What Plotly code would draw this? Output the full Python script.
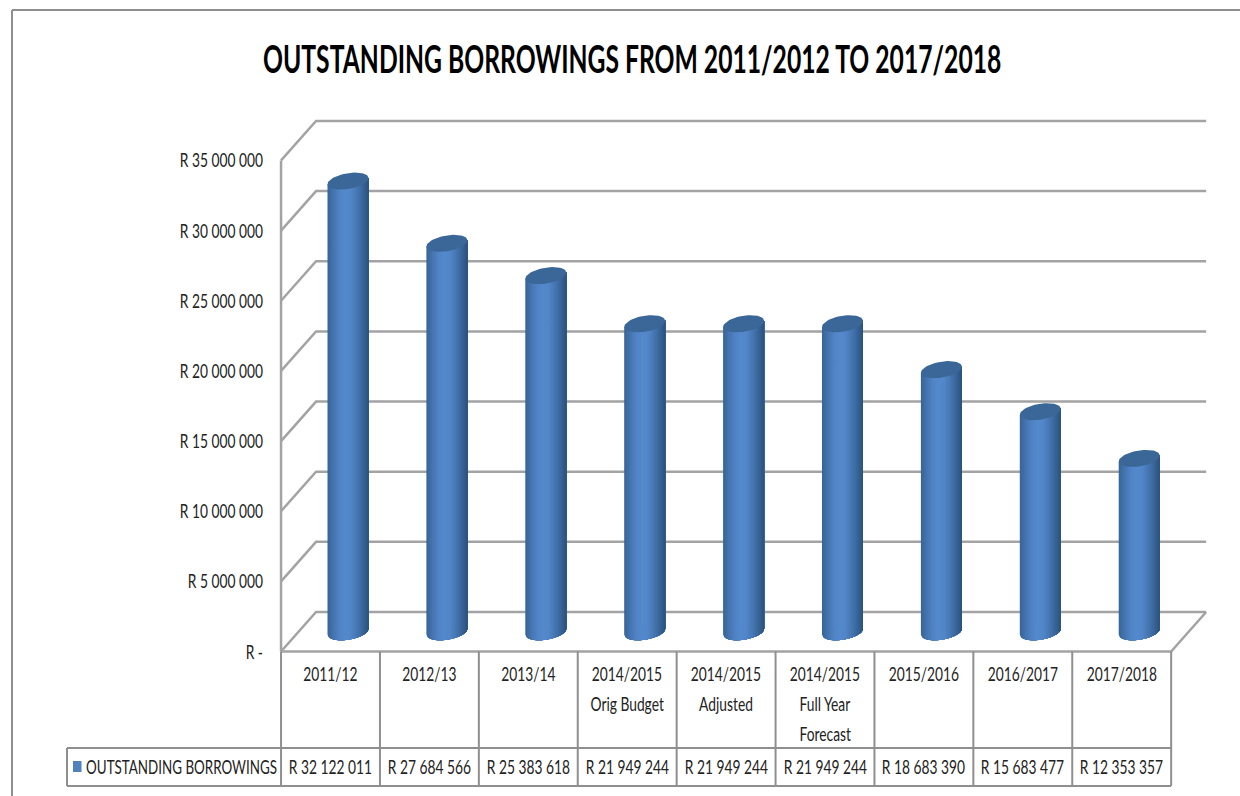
import math
import plotly.graph_objects as go

# Chart data
categories = [
    ["2011/12"], ["2012/13"], ["2013/14"],
    ["2014/2015", "Orig Budget"], ["2014/2015", "Adjusted"],
    ["2014/2015", "Full Year", "Forecast"],
    ["2015/2016"], ["2016/2017"], ["2017/2018"],
]
borrowings = [32122011, 27684566, 25383618, 21949244, 21949244,
              21949244, 18683390, 15683477, 12353357]
series_name = "OUTSTANDING BORROWINGS"
title_text = "OUTSTANDING BORROWINGS FROM 2011/2012 TO 2017/2018"
axis_ticks = [0, 5000000, 10000000, 15000000, 20000000, 25000000, 30000000, 35000000]
axis_labels = ["R -", "R 5 000 000", "R 10 000 000", "R 15 000 000", "R 20 000 000",
               "R 25 000 000", "R 30 000 000", "R 35 000 000"]

W, H = 1240, 796
FONT = "Lato, sans-serif"
INK = "#222222"
GRID = "#a3a3a3"
BORDER = "#8f8f8f"
TEXT_SIZE = 20
TITLE_SIZE = 38

# Scales: one category is 98.9 px wide, one rand is 14.03e-6 px tall
PX_CAT = 98.9
PX_RAND = 14.03e-6
ORIGIN_X, ORIGIN_Y = 330.5, 651.5
x_range = [(0 - ORIGIN_X) / PX_CAT, (W - ORIGIN_X) / PX_CAT]
y_range = [(ORIGIN_Y - H) / PX_RAND, ORIGIN_Y / PX_RAND]


def cat_len(px):
    return px / PX_CAT


def val_len(px):
    return px / PX_RAND


def ramp(stops, count):
    """Evenly spaced colours along a list of RGB stops."""
    out = []
    for k in range(count):
        pos = k / (count - 1) * (len(stops) - 1)
        a = min(int(pos), len(stops) - 2)
        f = pos - a
        rgb = [round(stops[a][c] + (stops[a + 1][c] - stops[a][c]) * f) for c in range(3)]
        out.append(f"rgb({rgb[0]},{rgb[1]},{rgb[2]})")
    return out


# Oblique depth of the 3-D box
DEPTH_X, DEPTH_Y = cat_len(35), val_len(39.5)
LEFT, RIGHT = -0.5, len(categories) - 0.5
TOP_VALUE = axis_ticks[-1]

fig = go.Figure()

# Back wall and side wall lines
wall_x, wall_y = [], []
for v in axis_ticks:
    wall_x += [LEFT, LEFT + DEPTH_X, RIGHT + DEPTH_X, None]
    wall_y += [v, v + DEPTH_Y, v + DEPTH_Y, None]
wall_x += [LEFT, LEFT, None, LEFT, RIGHT, RIGHT + DEPTH_X]
wall_y += [TOP_VALUE, 0, None, 0, 0, DEPTH_Y]
fig.add_trace(go.Scatter(x=wall_x, y=wall_y, mode="lines", hoverinfo="skip",
                         line=dict(color=GRID, width=2.5), showlegend=False))

# Cylinders: overlapping shaded strips painted left to right, closed by a tilted ellipse
RADIUS = cat_len(20.5)
TILT = val_len(3)
MINOR = val_len(8)
SHADES = ramp([(56, 102, 152), (70, 117, 176), (80, 131, 197), (84, 137, 205),
               (82, 134, 200), (72, 120, 180), (58, 103, 155), (44, 84, 128)], 44)
N = len(SHADES)
for k, shade in enumerate(SHADES):
    u0 = -1 + 2 * k / N
    steps = [u0 + (1 - u0) * j / 24 for j in range(25)]
    xs, ys = [], []
    for i, value in enumerate(borrowings):
        cx = i + DEPTH_X / 2
        base = DEPTH_Y / 2
        top = value + DEPTH_Y / 2
        lower = [base + TILT * u - MINOR * math.sqrt(max(0, 1 - u * u)) for u in steps]
        upper = [top + TILT * u for u in reversed(steps)]
        xs += [cx + RADIUS * u for u in steps] + [cx + RADIUS * u for u in reversed(steps)] + [None]
        ys += lower + upper + [None]
    fig.add_trace(go.Scatter(x=xs, y=ys, mode="lines", fill="toself", fillcolor=shade,
                             line=dict(width=0), hoverinfo="skip", showlegend=False))

cap_x, cap_y = [], []
for i, value in enumerate(borrowings):
    cx = i + DEPTH_X / 2
    top = value + DEPTH_Y / 2
    for j in range(61):
        t = 2 * math.pi * j / 60
        cap_x.append(cx + RADIUS * math.cos(t))
        cap_y.append(top + TILT * math.cos(t) + MINOR * math.sin(t))
    cap_x.append(None)
    cap_y.append(None)
fig.add_trace(go.Scatter(x=cap_x, y=cap_y, mode="lines", fill="toself", fillcolor="#3a6798",
                         line=dict(width=0), hoverinfo="skip", showlegend=False))

annotations = []


def label(x, py, text, size=TEXT_SIZE, xref="x", color=INK, bold=False):
    annotations.append(dict(
        x=x, y=1 - py / H, xref=xref, yref="paper", text=f"<b>{text}</b>" if bold else text,
        showarrow=False, xanchor="center", yanchor="middle",
        font=dict(family=FONT, size=size, color=color)))


label(632 / W, 58, title_text, size=TITLE_SIZE, xref="paper", color="#000000", bold=True)

# Data table under the plot
shapes = []


def rule(x0, y0, x1, y1, xref="x", color=BORDER):
    shapes.append(dict(type="line", x0=x0, x1=x1, y0=1 - y0 / H, y1=1 - y1 / H,
                       xref=xref, yref="paper", line=dict(color=color, width=2)))


TABLE_HEAD, TABLE_TOP, TABLE_BOTTOM = 651.5, 748, 786
for i in range(len(categories) + 1):
    rule(i - 0.5, TABLE_HEAD, i - 0.5, TABLE_BOTTOM)
rule(67 / W, TABLE_TOP, 1171 / W, TABLE_TOP, xref="paper")
rule(67 / W, TABLE_BOTTOM, 1171 / W, TABLE_BOTTOM, xref="paper")
rule(67 / W, TABLE_TOP, 67 / W, TABLE_BOTTOM, xref="paper")

LINE_START, LINE_STEP = 673, 30
for i, (lines, value) in enumerate(zip(categories, borrowings)):
    for n, line in enumerate(lines):
        label(i, LINE_START + n * LINE_STEP, line)
    label(i, 766, "R " + f"{value:,}".replace(",", " "))

label(181.5 / W, 766, series_name, xref="paper")
shapes.append(dict(type="rect", x0=73 / W, x1=81.5 / W, y0=1 - 772 / H, y1=1 - 761 / H,
                   xref="paper", yref="paper", fillcolor="#4f81bd", line=dict(width=0)))

# Outer chart frame, open on the right and at the bottom
rule(12 / W, 10, 1, 10, xref="paper")
rule(12 / W, 10, 12 / W, H, xref="paper")

fig.update_layout(
    width=W, height=H, margin=dict(l=0, r=0, t=0, b=0), autosize=False,
    paper_bgcolor="white", plot_bgcolor="white", showlegend=False,
    shapes=shapes, annotations=annotations,
    xaxis=dict(range=x_range, visible=False, fixedrange=True),
    yaxis=dict(range=y_range, anchor="free", position=281 / W, fixedrange=True,
               tickmode="array", tickvals=axis_ticks, ticktext=axis_labels,
               showgrid=False, zeroline=False, showline=False, ticks="",
               ticklabelstandoff=18,
               tickfont=dict(family=FONT, size=TEXT_SIZE, color=INK)),
)

# The chart lettering is a condensed face: squeeze each text horizontally about its anchor
condense = """
var TITLE_K = 0.65, NAME_K = 0.67, TEXT_K = 0.69;
function squeeze(el, k, side) {
  var b = el.getBBox();
  var ax = b.x + b.width * side;
  var old = el.getAttribute('transform') || '';
  el.setAttribute('transform', old + ' translate(' + ax + ' 0) scale(' + k + ' 1) translate(' + (-ax) + ' 0)');
}
var root = document.getElementById('{plot_id}');
root.querySelectorAll('.annotation-text').forEach(function (el) {
  var t = el.textContent;
  var k = t.indexOf(' FROM ') >= 0 ? TITLE_K : (t.indexOf('BORROWINGS') >= 0 ? NAME_K : TEXT_K);
  squeeze(el, k, 0.5);
});
root.querySelectorAll('.ytick text').forEach(function (el) { squeeze(el, TEXT_K, 1); });
"""

fig.write_html("out.html", post_script=condense)
